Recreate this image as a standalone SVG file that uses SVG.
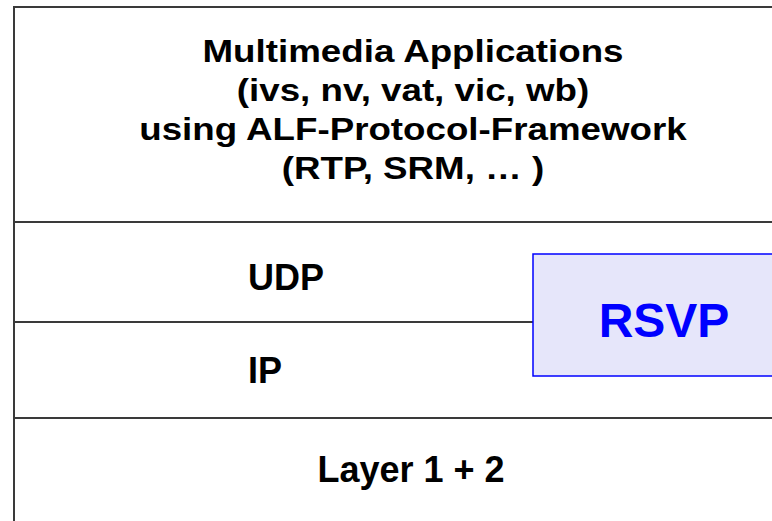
<svg xmlns="http://www.w3.org/2000/svg" width="772" height="521" viewBox="0 0 772 521">
  <style>
    .lbl { font-family: "Liberation Sans", Arial, sans-serif; font-weight: bold; fill: #000; }
    .big { font-size: 36px; }
    .app { font-size: 32px; text-anchor: middle; }
    .div { stroke: #3a3a3a; stroke-width: 2; fill: none; }
    .rsvpbox { fill: #E6E6FA; stroke: #0000FF; stroke-width: 1.5; }
    .rsvptxt { font-family: "Liberation Sans", Arial, sans-serif; font-weight: bold; font-size: 48px; fill: #0000FF; text-anchor: middle; }
  </style>
  <rect width="772" height="521" fill="#FFFFFF"/>
  <g id="connectors">
    <path class="div" d="M14 521 V7 H772"/>
    <path class="div" d="M14 222 H772"/>
    <path class="div" d="M14 322 H533"/>
    <path class="div" d="M14 418 H772"/>
  </g>
  <g id="applications">
    <g transform="translate(413,0) scale(1.148,1)">
      <text class="lbl app" x="0" y="62">Multimedia Applications</text>
      <text class="lbl app" x="0" y="101">(ivs, nv, vat, vic, wb)</text>
      <text class="lbl app" x="0" y="140">using ALF-Protocol-Framework</text>
      <text class="lbl app" x="0" y="179">(RTP, SRM, … )</text>
    </g>
  </g>
  <g id="udp">
    <text class="lbl big" x="248" y="290">UDP</text>
  </g>
  <g id="ip">
    <text class="lbl big" x="248" y="383">IP</text>
  </g>
  <g id="layer12">
    <text class="lbl big" x="411" y="482" text-anchor="middle">Layer 1 + 2</text>
  </g>
  <g id="rsvp">
    <rect class="rsvpbox" x="533" y="254" width="260" height="122"/>
    <text class="rsvptxt" x="664" y="337">RSVP</text>
  </g>
</svg>
